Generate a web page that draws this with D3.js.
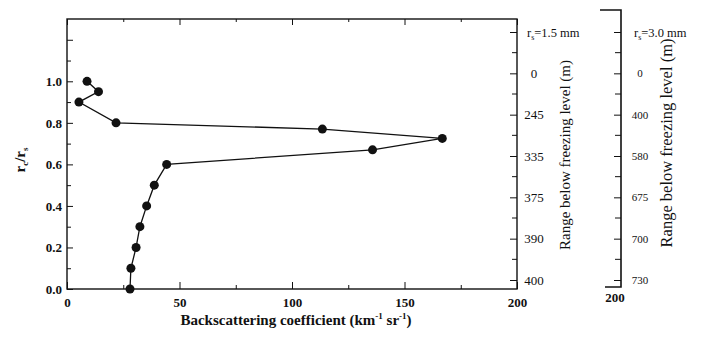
<!DOCTYPE html>
<html>
<head>
<meta charset="utf-8">
<script src="https://cdn.jsdelivr.net/npm/d3@7.9.0/dist/d3.min.js"></script>
<style>
  body { margin: 0; background: #fff; }
  svg { display: block; }
  .axis path, .axis line { stroke: #111; }
  .axis text { fill: #111; }
</style>
</head>
<body>
<svg id="chart" width="701" height="337" font-family="Liberation Serif, DejaVu Serif, serif"></svg>
<script>
// backscattering coefficient (km^-1 sr^-1) vs r_c/r_s
const backscatter = [8.9, 14, 5.3, 21.8, 113.5, 166.8, 135.8, 44.3, 38.8, 35.4, 32.4, 30.7, 28.4, 28];
const ratio = [1.0, 0.95, 0.90, 0.80, 0.77, 0.725, 0.67, 0.60, 0.50, 0.40, 0.30, 0.20, 0.10, 0.0];

const xTicks = [0, 50, 100, 150, 200];
const xMinor = [25, 75, 125, 175];
const yTicks = [0, 0.2, 0.4, 0.6, 0.8, 1.0];
const yExtra = [1.2];
const yMinor = [0.1, 0.3, 0.5, 0.7, 0.9, 1.1];

// range below freezing level (m), two drop sizes
const range15 = ["r_s=1.5 mm", "0", "245", "335", "375", "390", "400"];
const range30 = ["r_s=3.0 mm", "0", "400", "580", "675", "700", "730"];

const serif = "Liberation Serif, DejaVu Serif, serif";
const svg = d3.select("#chart");
const pLeft = 67, pRight = 517, pTop = 19, pBottom = 289;

const x = d3.scaleLinear().domain([0, 200]).range([pLeft, pRight]);
const y = d3.scaleLinear().domain([0, 1.3]).range([pBottom, pTop]);

// frame
svg.append("rect")
  .attr("x", pLeft).attr("y", pTop)
  .attr("width", pRight - pLeft).attr("height", pBottom - pTop)
  .attr("fill", "none").attr("stroke", "#111").attr("stroke-width", 1.4);

// bottom axis
const gx = svg.append("g").attr("class", "axis")
  .attr("transform", `translate(0,${pBottom})`)
  .call(d3.axisBottom(x).tickValues(xTicks).tickSize(-7).tickPadding(9).tickFormat(d3.format("d")))
  .attr("font-family", serif);
gx.append("g").call(d3.axisBottom(x).tickValues(xMinor).tickSize(-4).tickFormat(""));
gx.selectAll("path").remove();
gx.selectAll("text").attr("font-size", 13).attr("font-weight", "bold");

// top ticks
const gt = svg.append("g").attr("class", "axis")
  .attr("transform", `translate(0,${pTop})`)
  .call(d3.axisTop(x).tickValues(xTicks).tickSize(-6).tickFormat(""));
gt.append("g").call(d3.axisTop(x).tickValues(xMinor).tickSize(-3).tickFormat(""));
gt.selectAll("path").remove();

// left axis
const gy = svg.append("g").attr("class", "axis")
  .attr("transform", `translate(${pLeft},0)`)
  .call(d3.axisLeft(y).tickValues(yTicks).tickSize(-6).tickPadding(5).tickFormat(d3.format(".1f")))
  .attr("font-family", serif);
gy.append("g").call(d3.axisLeft(y).tickValues(yExtra).tickSize(-6).tickFormat(""));
gy.append("g").call(d3.axisLeft(y).tickValues(yMinor).tickSize(-4).tickFormat(""));
gy.selectAll("path").remove();
gy.selectAll("text").attr("font-size", 13).attr("font-weight", "bold");

// right axes (ordinal range labels)
function rangeAxis(labels, xPos, labelX, headX, fontSize, minorLen) {
  const s = d3.scalePoint().domain(labels).range([32, 280]);
  const g = svg.append("g").attr("class", "axis")
    .attr("transform", `translate(${xPos},0)`)
    .call(d3.axisRight(s).tickSize(-7))
    .attr("font-family", serif);
  g.selectAll("path").remove();
  g.selectAll(".tick text")
    .attr("x", labelX).attr("text-anchor", "middle")
    .attr("font-size", fontSize);
  // header label with subscript
  const head = g.selectAll(".tick text").filter((d, i) => i === 0);
  head.attr("x", headX).attr("text-anchor", "start").attr("font-size", 12.5).text(null);
  const parts = labels[0].split("_");
  const rest = parts[1].slice(1);
  head.append("tspan").text(parts[0]);
  head.append("tspan").attr("font-size", 8).attr("dy", 3).text(parts[1][0]);
  head.append("tspan").attr("dy", -3).text(rest);
  // minor ticks between labels
  const step = s.step();
  const mids = labels.slice(1).map(d => s(d) - step / 2);
  g.selectAll(".minor").data(mids).join("line")
    .attr("class", "minor")
    .attr("x1", -minorLen).attr("x2", 0)
    .attr("y1", d => d).attr("y2", d => d);
  return g;
}

rangeAxis(range15, pRight, 17, 10, 13, 5);
rangeAxis(range30, 621, 19, 13, 11, 6);

// bracket for second axis
svg.append("path")
  .attr("d", "M600,10 H621 V287 H605")
  .attr("fill", "none").attr("stroke", "#111").attr("stroke-width", 1.6);

svg.append("text")
  .attr("x", 615).attr("y", 302)
  .attr("text-anchor", "middle").attr("font-size", 13).attr("font-weight", "bold")
  .attr("fill", "#111")
  .text(xTicks[xTicks.length - 1]);

// data
const pts = backscatter.map((d, i) => [d, ratio[i]]);
svg.append("path")
  .datum(pts)
  .attr("fill", "none").attr("stroke", "#111").attr("stroke-width", 1.3)
  .attr("d", d3.line().x(d => x(d[0])).y(d => y(d[1])));
svg.append("g").selectAll("circle").data(pts).join("circle")
  .attr("cx", d => x(d[0])).attr("cy", d => y(d[1]))
  .attr("r", 4.5).attr("fill", "#111");

// axis titles
const xt = svg.append("text")
  .attr("x", 296).attr("y", 325)
  .attr("text-anchor", "middle").attr("font-size", 15).attr("font-weight", "bold")
  .attr("fill", "#111");
xt.append("tspan").text("Backscattering coefficient (km");
xt.append("tspan").attr("font-size", 9).attr("dy", -6).text("-1");
xt.append("tspan").attr("dy", 6).text(" sr");
xt.append("tspan").attr("font-size", 9).attr("dy", -6).text("-1");
xt.append("tspan").attr("dy", 6).text(")");

const yt = svg.append("text")
  .attr("transform", "translate(25,160) rotate(-90)")
  .attr("text-anchor", "middle").attr("font-size", 15).attr("font-weight", "bold")
  .attr("fill", "#111");
yt.append("tspan").text("r");
yt.append("tspan").attr("font-size", 9).attr("dy", 3).text("c");
yt.append("tspan").attr("dy", -3).text("/r");
yt.append("tspan").attr("font-size", 9).attr("dy", 3).text("s");

svg.append("text")
  .attr("transform", "translate(570,155) rotate(-90)")
  .attr("text-anchor", "middle").attr("font-size", 15)
  .attr("fill", "#111")
  .text("Range below freezing level (m)");

svg.append("text")
  .attr("transform", "translate(672,143) rotate(-90)")
  .attr("text-anchor", "middle").attr("font-size", 16.5)
  .attr("fill", "#111")
  .text("Range below freezing level (m)");
</script>
</body>
</html>
